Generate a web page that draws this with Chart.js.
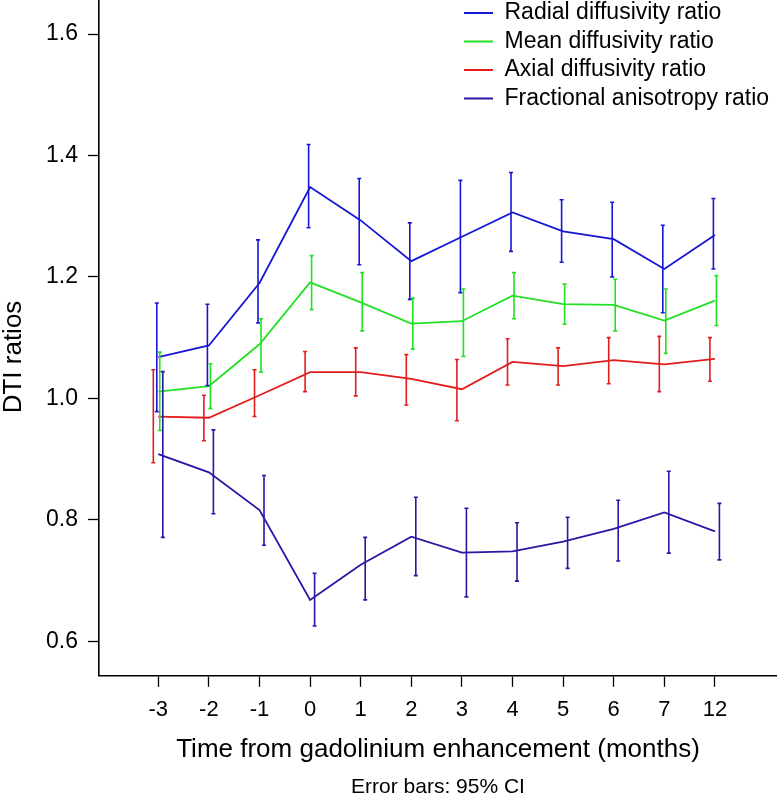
<!DOCTYPE html>
<html><head><meta charset="utf-8">
<script src="https://cdn.jsdelivr.net/npm/chart.js@4.4.1/dist/chart.umd.min.js"></script>
<style>html,body{margin:0;padding:0;background:#fff;} canvas{display:block;}</style>
</head><body>
<canvas id="c" width="777" height="800"></canvas>
<script>
const categories = ['-3','-2','-1','0','1','2','3','4','5','6','7','12'];
const yTicks = [0.6, 0.8, 1.0, 1.2, 1.4, 1.6];

const radial   = [1.068,1.087,1.190,1.348,1.293,1.226,1.266,1.306,1.275,1.262,1.213,1.269];
const radialLo = [0.978,1.021,1.124,1.281,1.220,1.163,1.174,1.242,1.224,1.200,1.141,1.213];
const radialHi = [1.157,1.155,1.261,1.418,1.362,1.289,1.359,1.372,1.327,1.323,1.285,1.329];

const meanD    = [1.011,1.020,1.089,1.191,1.158,1.123,1.127,1.169,1.155,1.154,1.128,1.161];
const meanLo   = [0.947,0.983,1.043,1.146,1.111,1.081,1.069,1.131,1.122,1.111,1.074,1.120];
const meanHi   = [1.076,1.057,1.131,1.235,1.207,1.165,1.180,1.207,1.188,1.196,1.180,1.202];

const axial    = [0.970,0.968,1.005,1.043,1.043,1.032,1.015,1.060,1.053,1.063,1.056,1.065];
const axialLo  = [0.894,0.930,0.970,1.011,1.004,0.989,0.963,1.022,1.022,1.024,1.011,1.028];
const axialHi  = [1.047,1.005,1.047,1.077,1.083,1.072,1.064,1.098,1.083,1.100,1.102,1.100];

const fa       = [0.908,0.878,0.816,0.668,0.726,0.772,0.746,0.748,0.764,0.785,0.812,0.781];
const faLo     = [0.771,0.810,0.758,0.625,0.668,0.708,0.673,0.699,0.720,0.732,0.745,0.734];
const faHi     = [1.044,0.948,0.873,0.712,0.771,0.837,0.819,0.795,0.804,0.832,0.880,0.827];

const seriesNames = ['Radial diffusivity ratio','Mean diffusivity ratio','Axial diffusivity ratio','Fractional anisotropy ratio'];
const yTitle = 'DTI ratios';
const xTitle = 'Time from gadolinium enhancement (months)';
const caption = 'Error bars: 95% CI';
const colors = ['#1616d4','#22e022','#e41c1c','#2c14a4'];
const dodgePx = [-1.5, 1.5, -5, 4.5];

function pts(arr){ return arr.map((v, i) => ({x: i, y: v})); }

const errorBars = {
  id: 'errorBars',
  afterDatasetsDraw(chart) {
    const ctx = chart.ctx, ys = chart.scales.y;
    chart.data.datasets.forEach((ds, di) => {
      const meta = chart.getDatasetMeta(di);
      if (meta.hidden) return;
      ctx.save();
      ctx.strokeStyle = ds.borderColor;
      ctx.lineWidth = 1.6;
      meta.data.forEach((pt, i) => {
        const x = pt.x + ds.errDodge;
        const y1 = ys.getPixelForValue(ds.errHi[i]);
        const y2 = ys.getPixelForValue(ds.errLo[i]);
        ctx.beginPath();
        ctx.moveTo(x, y1); ctx.lineTo(x, y2);
        ctx.moveTo(x - 2, y1); ctx.lineTo(x + 2, y1);
        ctx.moveTo(x - 2, y2); ctx.lineTo(x + 2, y2);
        ctx.stroke();
      });
      ctx.restore();
    });
  }
};

const legendPlace = {
  id: 'legendPlace',
  afterLayout(chart) {
    const lg = chart.legend;
    if (!lg) return;
    lg.left = 458.5; lg.right = 777;
    lg.top = -4; lg.bottom = 677;
  }
};

const yTitlePlugin = {
  id: 'yTitlePlugin',
  afterDraw(chart) {
    const ctx = chart.ctx;
    ctx.save();
    ctx.font = "26px 'Liberation Sans', Arial, sans-serif";
    ctx.fillStyle = '#000';
    ctx.textAlign = 'center';
    ctx.textBaseline = 'middle';
    ctx.translate(14, 357);
    ctx.rotate(-Math.PI / 2);
    ctx.fillText(yTitle, 0, 0);
    ctx.restore();
  }
};

Chart.defaults.font.family = "'Liberation Sans', Arial, sans-serif";
Chart.defaults.color = '#000';

function mk(label, data, lo, hi, k) {
  return {
    label: label, data: pts(data), errLo: lo, errHi: hi, errDodge: dodgePx[k],
    borderColor: colors[k], backgroundColor: colors[k], borderWidth: 1.8,
    pointRadius: 0, tension: 0, fill: false
  };
}

new Chart(document.getElementById('c'), {
  type: 'line',
  data: {
    datasets: [
      mk(seriesNames[0], radial, radialLo, radialHi, 0),
      mk(seriesNames[1], meanD, meanLo, meanHi, 1),
      mk(seriesNames[2], axial, axialLo, axialHi, 2),
      mk(seriesNames[3], fa, faLo, faHi, 3)
    ]
  },
  options: {
    responsive: false, animation: false, devicePixelRatio: 1,
    layout: { padding: 0 },
    scales: {
      x: {
        type: 'linear', min: -1.172, max: 12.227,
        afterBuildTicks(s) { s.ticks = categories.map((c, i) => ({value: i})); },
        afterFit(s) { s.height = 99; s.paddingLeft = 0; s.paddingRight = 0; },
        ticks: { callback: (v) => categories[v], autoSkip: false, maxRotation: 0, padding: 10, font: { size: 22 } },
        grid: { drawOnChartArea: false, drawTicks: true, tickLength: 11, tickColor: '#000', tickWidth: 1.3 },
        border: { display: true, color: '#000', width: 1.6 },
        title: { display: true, text: xTitle, font: { size: 26, lineHeight: 1 }, padding: { top: 0, bottom: 12 } }
      },
      y: {
        min: 0.543, max: 1.656,
        afterBuildTicks(s) { s.ticks = yTicks.map(v => ({value: v})); },
        afterFit(s) { s.width = 99; s.paddingTop = 0; s.paddingBottom = 0; },
        ticks: { callback: (v) => v.toFixed(1), padding: 10, font: { size: 23 } },
        grid: { drawOnChartArea: false, drawTicks: true, tickLength: 11, tickColor: '#000', tickWidth: 1.3 },
        border: { display: true, color: '#000', width: 1.6 },
        title: { display: false }
      }
    },
    plugins: {
      legend: {
        position: 'chartArea', align: 'start',
        labels: { usePointStyle: true, pointStyle: 'line', pointStyleWidth: 29, padding: 5.5, font: { size: 23 }, color: '#000' }
      },
      subtitle: {
        display: true, text: caption, position: 'bottom', fullSize: false,
        font: { size: 21, weight: 'normal' }, color: '#000', padding: { top: 0, bottom: 0 }
      },
      tooltip: { enabled: false }
    }
  },
  plugins: [errorBars, legendPlace, yTitlePlugin]
});
</script>
</body></html>
